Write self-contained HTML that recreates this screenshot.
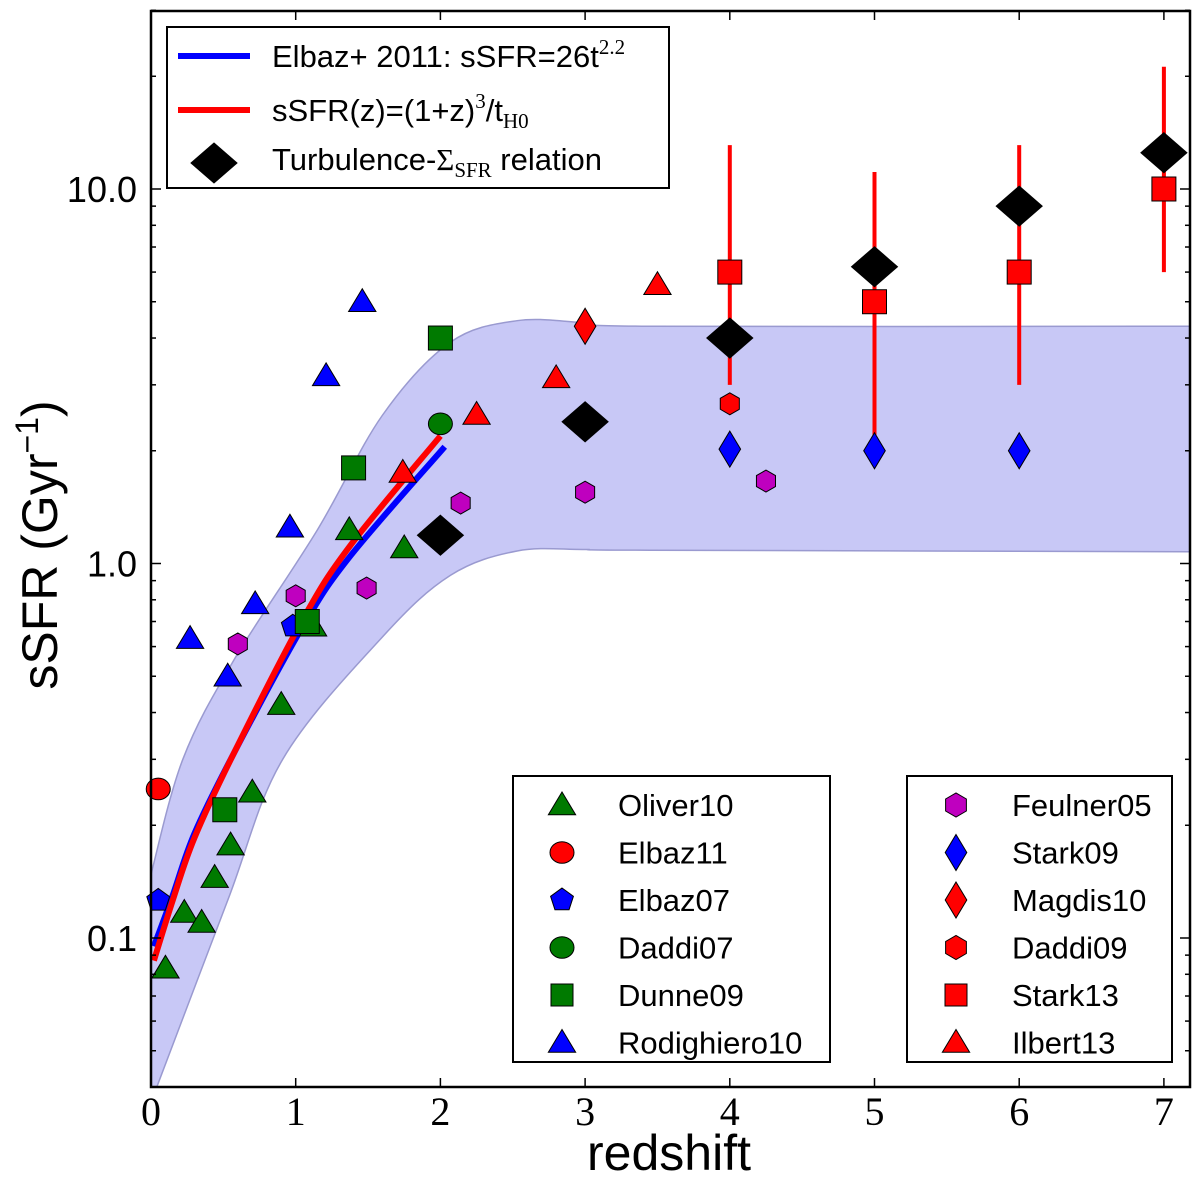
<!DOCTYPE html>
<html><head><meta charset="utf-8"><style>
html,body{margin:0;padding:0;background:#fff;}
svg{display:block;font-family:"Liberation Sans",sans-serif;}
</style></head><body>
<svg id="chart" width="1200" height="1178" xmlns="http://www.w3.org/2000/svg">
<g id="band"></g>
<g id="curves"></g>
<g id="marks"></g>
<g id="axes"></g>
<g id="legends"></g>
<text transform="translate(57,545) rotate(-90)" text-anchor="middle" font-size="50">sSFR (Gyr<tspan dy="-19" font-size="32">−1</tspan><tspan dy="19">)</tspan></text>
<text x="669" y="1170" text-anchor="middle" font-size="50">redshift</text>
</svg>
<script>
const NS='http://www.w3.org/2000/svg';
// ---- data ----
const bandUpperZ=[0,0.22,0.57,1.15,1.60,2.07,2.53,2.99,3.45,7.2];
const bandUpperV=[0.148,0.30,0.55,1.23,2.49,3.9,4.45,4.4,4.3,4.3];
const bandLowerZ=[0.04,0.53,0.91,1.60,2.07,2.53,2.99,3.45,7.2];
const bandLowerV=[0.04,0.126,0.30,0.637,0.93,1.08,1.09,1.085,1.075];
const redZ=[0.02,0.15,0.3,0.57,1.05,1.38,2.0];
const redV=[0.087,0.126,0.185,0.31,0.71,1.12,2.19];
const blueZ=[0.02,0.15,0.3,0.57,1.05,1.38,2.03];
const blueV=[0.095,0.13,0.19,0.31,0.68,1.05,2.05];
const oliverZ=[0.10,0.23,0.35,0.44,0.55,0.70,0.90,1.12,1.37,1.75];
const oliverV=[0.083,0.117,0.110,0.145,0.177,0.245,0.42,0.68,1.23,1.10];
const elbaz11Z=[0.05], elbaz11V=[0.25];
const elbaz07Z=[0.05,0.98], elbaz07V=[0.126,0.68];
const daddi07Z=[2.0], daddi07V=[2.36];
const dunneZ=[0.51,1.08,1.40,2.0], dunneV=[0.22,0.70,1.8,4.0];
const rodiZ=[0.27,0.53,0.72,0.96,1.21,1.46], rodiV=[0.63,0.50,0.78,1.25,3.17,5.0];
const feulZ=[0.60,1.0,1.49,2.14,3.0,4.25], feulV=[0.61,0.82,0.86,1.45,1.55,1.66];
const stark09Z=[4,5,6], stark09V=[2.02,2.0,2.0];
const magdisZ=[3.0], magdisV=[4.3];
const daddi09Z=[4.0], daddi09V=[2.67];
const stark13Z=[4,5,6,7], stark13V=[6.0,5.0,6.0,10.0], stark13Lo=[3.0,1.85,3.0,6.0], stark13Hi=[13.1,11.1,13.1,21.2];
const ilbertZ=[1.74,2.25,2.8,3.5], ilbertV=[1.75,2.5,3.13,5.55];
const turbZ=[2,3,4,5,6,7], turbV=[1.19,2.39,4.0,6.2,9.0,12.5];
const xTicks=[0,1,2,3,4,5,6,7];
const yTicks=[0.1,1.0,10.0];
const yTickLabels=['0.1','1.0','10.0'];
// ---- axes ----
const X0=151,X1=1190,Y0=11,Y1=1087;
const sx=z=>X0+z*144.7;
const sy=v=>563.5-Math.log10(v)*374.5;
function el(tag,attrs,parent){const e=document.createElementNS(NS,tag);for(const k in attrs)e.setAttribute(k,attrs[k]);parent.appendChild(e);return e;}
function smoothPts(p,start){let s=(start?'M':'L')+p[0];for(let i=0;i<p.length-1;i++){const a=p[Math.max(0,i-1)],b=p[i],c=p[i+1],e=p[Math.min(p.length-1,i+2)];s+=` C${b[0]+(c[0]-a[0])/6},${b[1]+(c[1]-a[1])/6} ${c[0]-(e[0]-b[0])/6},${c[1]-(e[1]-b[1])/6} ${c[0]},${c[1]}`;}return s;}
function smooth(Z,V){return smoothPts(Z.map((z,i)=>[sx(z),sy(V[i])]),true);}
const band=document.getElementById('band');
const up=bandUpperZ.map((z,i)=>[sx(z),sy(bandUpperV[i])]);
const lo=bandLowerZ.map((z,i)=>[sx(z),sy(bandLowerV[i])]).reverse();
const d=smoothPts(up,true)+' '+smoothPts(lo,false)+' L'+X0+','+Y1+' Z';
const clip=el('clipPath',{id:'pc'},band);el('rect',{x:X0,y:Y0,width:X1-X0,height:Y1-Y0},clip);
const bp=el('path',{d:d,fill:'#c8c8f6',stroke:'none','clip-path':'url(#pc)'},band);


const bu=el('path',{d:smoothPts(up,true),fill:'none',stroke:'#9a9ad0','stroke-width':1.5,'clip-path':'url(#pc)'},band);


const bl2=el('path',{d:smooth(bandLowerZ,bandLowerV),fill:'none',stroke:'#9a9ad0','stroke-width':1.5,'clip-path':'url(#pc)'},band);


const curves=document.getElementById('curves');
const bl=el('path',{d:smooth(blueZ,blueV),fill:'none',stroke:'#0000ff','stroke-width':6,'clip-path':'url(#pc)'},curves);


const rl=el('path',{d:smooth(redZ,redV),fill:'none',stroke:'#ff0000','stroke-width':6,'clip-path':'url(#pc)'},curves);


function marker(shape,cx,cy,fill,s,parent){
  let e;
  if(shape==='tri'){e=el('polygon',{points:`${cx},${cy-s} ${cx-s*1.05},${cy+s*0.75} ${cx+s*1.05},${cy+s*0.75}`},parent);}
  else if(shape==='circ'){e=el('ellipse',{cx,cy,rx:s,ry:s*0.9},parent);}
  else if(shape==='sq'){e=el('rect',{x:cx-s,y:cy-s,width:2*s,height:2*s},parent);}
  else if(shape==='diam'){e=el('polygon',{points:`${cx},${cy-s} ${cx+s*0.6},${cy} ${cx},${cy+s} ${cx-s*0.6},${cy}`},parent);}
  else if(shape==='bdiam'){e=el('polygon',{points:`${cx},${cy-s} ${cx+s*1.15},${cy} ${cx},${cy+s} ${cx-s*1.15},${cy}`},parent);}
  else if(shape==='hex'){let p=[];for(let k=0;k<6;k++){const a=Math.PI/6+k*Math.PI/3;p.push((cx+s*Math.cos(a))+','+(cy+s*Math.sin(a)));}e=el('polygon',{points:p.join(' ')},parent);}
  else if(shape==='pent'){let p=[];for(let k=0;k<5;k++){const a=-Math.PI/2+k*2*Math.PI/5;p.push((cx+s*Math.cos(a))+','+(cy+s*Math.sin(a)));}e=el('polygon',{points:p.join(' ')},parent);}
  e.setAttribute('fill',fill);e.setAttribute('stroke','#000');e.setAttribute('stroke-width',1);
  return e;
}
const marks=document.getElementById('marks');
const series=[
 ['oliver10','tri','#007a00',oliverZ,oliverV,13],
 ['elbaz11','circ','#ff0000',elbaz11Z,elbaz11V,12],
 ['elbaz07','pent','#0000ff',elbaz07Z,elbaz07V,12],
 ['daddi07','circ','#007a00',daddi07Z,daddi07V,12],
 ['dunne09','sq','#007a00',dunneZ,dunneV,12],
 ['rodighiero10','tri','#0000ff',rodiZ,rodiV,13],
 ['feulner05','hex','#bf00bf',feulZ,feulV,11],
 ['stark09','diam','#0000ff',stark09Z,stark09V,18],
 ['magdis10','diam','#ff0000',magdisZ,magdisV,18],
 ['daddi09','hex','#ff0000',daddi09Z,daddi09V,11],
 ['stark13','sq','#ff0000',stark13Z,stark13V,12],
 ['ilbert13','tri','#ff0000',ilbertZ,ilbertV,13],
 ['turbulence','bdiam','#000000',turbZ,turbV,20]
];
for(let i=0;i<stark13Z.length;i++){
  const ln=el('line',{x1:sx(stark13Z[i]),x2:sx(stark13Z[i]),y1:sy(stark13Lo[i]),y2:sy(stark13Hi[i]),stroke:'#ff0000','stroke-width':4},marks);
  
  
}
series.forEach(s=>{const g=el('g',{},marks);
  
  
  s[3].forEach((z,i)=>{const m=marker(s[1],sx(z),sy(s[4][i]),s[2],s[5],g);
    
    });
});
const ax=document.getElementById('axes');
el('rect',{x:X0,y:Y0,width:X1-X0,height:Y1-Y0,fill:'none',stroke:'#000','stroke-width':2.5},ax);
xTicks.forEach(t=>{const x=sx(t);
  el('line',{x1:x,x2:x,y1:Y1,y2:Y1-9,stroke:'#000','stroke-width':1.5},ax);
  el('line',{x1:x,x2:x,y1:Y0,y2:Y0+9,stroke:'#000','stroke-width':1.5},ax);
  const tx=el('text',{x:x,y:1125,'text-anchor':'middle','font-size':40,'font-family':'"Liberation Serif",serif'},ax);tx.textContent=t;
  
  
});
for(let dec=-2;dec<=1;dec++){for(let m=1;m<=9;m++){const v=m*Math.pow(10,dec);if(v<0.04||v>30)continue;const y=sy(v);const L=m===1?10:5;
  el('line',{x1:X0,x2:X0+L,y1:y,y2:y,stroke:'#000','stroke-width':1.5},ax);
  el('line',{x1:X1,x2:X1-L,y1:y,y2:y,stroke:'#000','stroke-width':1.5},ax);}}
yTicks.forEach((t,i)=>{const tx=el('text',{x:137,y:sy(t)+13,'text-anchor':'end','font-size':36},ax);tx.textContent=yTickLabels[i];
  
  });
const lg=document.getElementById('legends');
const l1=el('g',{},lg);


el('rect',{x:167,y:27,width:502,height:161,fill:'#fff',stroke:'#000','stroke-width':2},l1);
el('line',{x1:178,x2:250,y1:56,y2:56,stroke:'#0000ff','stroke-width':6},l1);
el('line',{x1:178,x2:250,y1:110,y2:110,stroke:'#ff0000','stroke-width':6},l1);
marker('bdiam',214,163,'#000',20,l1);
l1.insertAdjacentHTML('beforeend','<text x="272" y="67" font-size="31">Elbaz+ 2011: sSFR=26t<tspan dy="-13" font-size="21" font-family="Liberation Serif,serif">2.2</tspan></text>'+
'<text x="272" y="121" font-size="31">sSFR(z)=(1+z)<tspan dy="-13" font-size="21" font-family="Liberation Serif,serif">3</tspan><tspan dy="13">/t</tspan><tspan dy="7" font-size="21" font-family="Liberation Serif,serif">H0</tspan></text>'+
'<text x="272" y="170" font-size="31">Turbulence-<tspan font-family="Liberation Serif,serif">Σ</tspan><tspan dy="7" font-size="21" font-family="Liberation Serif,serif">SFR</tspan><tspan dy="-7"> relation</tspan></text>');
function box(x,y,w,h,mx,tx,items,name){const g=el('g',{},lg);
  
  
  el('rect',{x,y,width:w,height:h,fill:'#fff',stroke:'#000','stroke-width':2},g);
  items.forEach((it,i)=>{const cy=y+29+i*47.5;marker(it[1],mx,cy,it[2],it[3],g);
    const t=el('text',{x:tx,y:cy+11,'font-size':31},g);t.textContent=it[0];
    
    });}
box(513,776,317,286,562,618,[['Oliver10','tri','#007a00',13],['Elbaz11','circ','#ff0000',12],['Elbaz07','pent','#0000ff',12],['Daddi07','circ','#007a00',12],['Dunne09','sq','#007a00',11],['Rodighiero10','tri','#0000ff',13]],'surveys-legend-left');
box(907,776,265,286,956,1012,[['Feulner05','hex','#bf00bf',12],['Stark09','diam','#0000ff',18],['Magdis10','diam','#ff0000',18],['Daddi09','hex','#ff0000',12],['Stark13','sq','#ff0000',11],['Ilbert13','tri','#ff0000',13]],'surveys-legend-right');
</script>
</body></html>
